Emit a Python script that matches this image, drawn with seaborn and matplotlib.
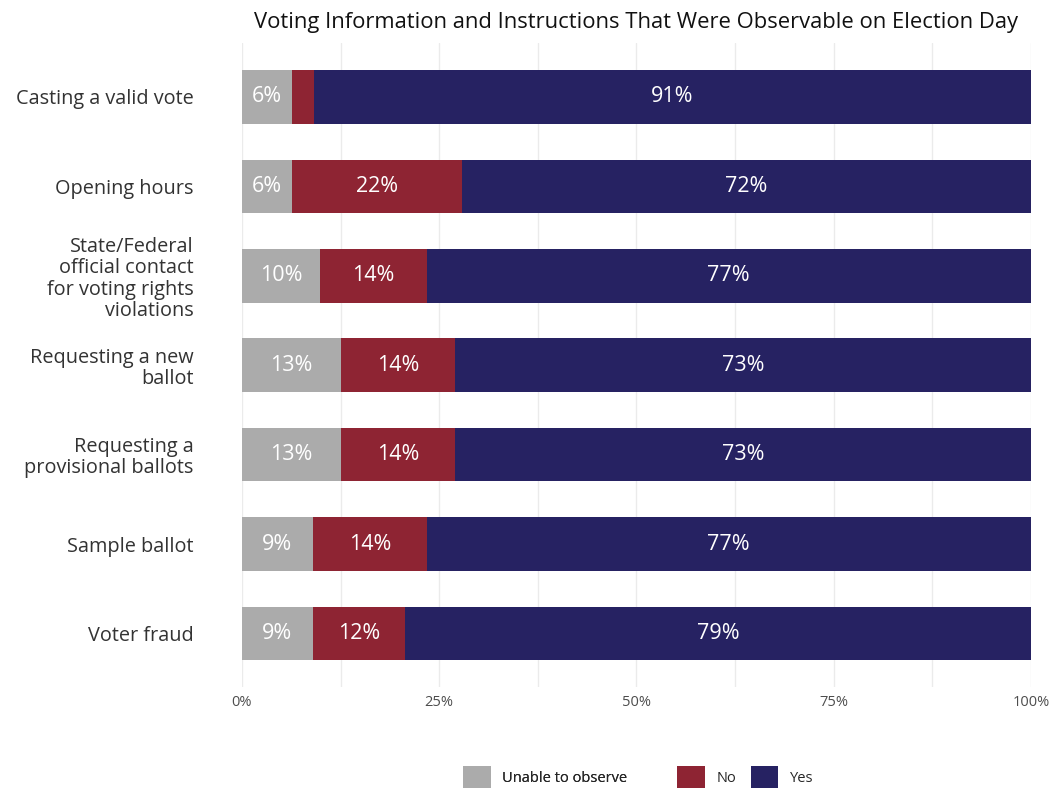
import matplotlib
matplotlib.use("Agg")
import matplotlib.pyplot as plt
import seaborn as sns
import pandas as pd
import numpy as np
from matplotlib.patches import Patch
from matplotlib.ticker import MultipleLocator, FuncFormatter

categories = [
    "Casting a valid vote",
    "Opening hours",
    "State/Federal\nofficial contact\nfor voting rights\nviolations",
    "Requesting a new\nballot",
    "Requesting a\nprovisional ballots",
    "Sample ballot",
    "Voter fraud",
]
unable = [6.4, 6.4, 9.9, 12.6, 12.6, 9.0, 9.0]
no = [2.7, 21.5, 13.5, 14.4, 14.4, 14.4, 11.7]
yes = [90.9, 72.1, 76.6, 73.0, 73.0, 76.6, 79.3]

series_names = ["Unable to observe", "No", "Yes"]
colors = {"Unable to observe": "#ABABAB", "No": "#8E2433", "Yes": "#262262"}
title = "Voting Information and Instructions That Were Observable on Election Day"

sns.set_theme(style="white")
plt.rcParams["font.family"] = ["Open Sans", "DejaVu Sans"]

df = pd.DataFrame({"category": categories, "Unable to observe": unable, "No": no, "Yes": yes})
df["c1"] = df["Unable to observe"]
df["c2"] = df["c1"] + df["No"]
df["c3"] = df["c2"] + df["Yes"]

fig = plt.figure(figsize=(10.52, 7.88), dpi=100)
ax = fig.add_axes([0.230, 0.128, 0.750, 0.817])

for col, name in [("c3", "Yes"), ("c2", "No"), ("c1", "Unable to observe")]:
    sns.barplot(data=df, x=col, y="category", orient="h", color=colors[name],
                width=0.6, ax=ax, saturation=1, edgecolor="none")

# segment labels
for i, row in df.iterrows():
    starts = [0, row["c1"], row["c2"]]
    vals = [row["Unable to observe"], row["No"], row["Yes"]]
    for s, v in zip(starts, vals):
        if v >= 5:
            ax.text(s + v / 2, i, f"{round(v)}%", ha="center", va="center",
                    color="white", fontsize=15.5)

ax.set_xlim(0, 100)
ax.set_ylim(6.6, -0.6)
ax.xaxis.set_major_locator(MultipleLocator(25))
ax.xaxis.set_minor_locator(MultipleLocator(12.5))
ax.xaxis.set_major_formatter(FuncFormatter(lambda v, p: f"{int(v)}%"))
ax.grid(axis="x", which="both", color="#EBEBEB", linewidth=1)
ax.set_axisbelow(True)
for sp in ax.spines.values():
    sp.set_visible(False)
ax.tick_params(axis="x", which="both", length=0, labelsize=10.5, colors="#4D4D4D", pad=6)
ax.tick_params(axis="y", length=0, labelsize=14.3, colors="#333333", pad=35)
for lbl in ax.get_yticklabels():
    lbl.set_horizontalalignment("right")
    lbl.set_multialignment("right")
    lbl.set_linespacing(1.08)
ax.set_xlabel("")
ax.set_ylabel("")
ax.set_title(title, fontsize=15.8, color="#111111", pad=11)

handles = {n: Patch(facecolor=colors[n], edgecolor="none", label=n) for n in series_names}
leg_y = 1 - 777 / 788
common = dict(frameon=False, fontsize=10.5, handlelength=1.9, handleheight=1.9,
              handletextpad=0.8, borderpad=0, borderaxespad=0, loc="center left")
leg1 = fig.legend(handles=[handles["Unable to observe"]], bbox_to_anchor=(463 / 1052, leg_y), **common)
fig.add_artist(leg1)
fig.legend(handles=[handles["No"], handles["Yes"]], ncol=2, columnspacing=1.0,
           bbox_to_anchor=(677 / 1052, leg_y), **common)

fig.savefig("out.png", dpi=100)
